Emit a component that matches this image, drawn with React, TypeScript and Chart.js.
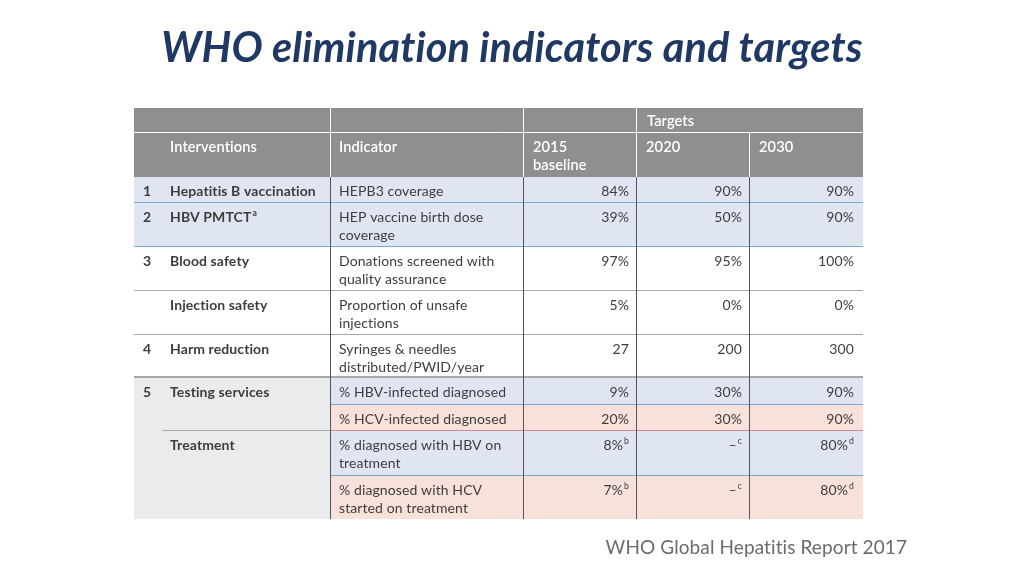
import React, { useEffect, useRef } from "react";
import { Chart, registerables } from "chart.js";

Chart.register(...registerables);

// ---------- content ----------
const TITLE = "WHO elimination indicators and targets";
const SOURCE = "WHO Global Hepatitis Report 2017";
const groupHeader = "Targets";
const columnHeaders = ["", "Interventions", "Indicator", "2015\nbaseline", "2020", "2030"];

const rowNumbers = ["1", "2", "3", "", "4", "5", "", "", ""];
const interventions = [
  "Hepatitis B vaccination",
  "HBV PMTCT",
  "Blood safety",
  "Injection safety",
  "Harm reduction",
  "Testing services",
  "",
  "Treatment",
  "",
];
const interventionNotes = ["", "a", "", "", "", "", "", "", ""];
const indicators = [
  "HEPB3 coverage",
  "HEP vaccine birth dose\ncoverage",
  "Donations screened with\nquality assurance",
  "Proportion of unsafe\ninjections",
  "Syringes & needles\ndistributed/PWID/year",
  "% HBV-infected diagnosed",
  "% HCV-infected diagnosed",
  "% diagnosed with HBV on\ntreatment",
  "% diagnosed with HCV\nstarted on treatment",
];
const baseline2015 = ["84%", "39%", "97%", "5%", "27", "9%", "20%", "8%", "7%"];
const baselineNotes = ["", "", "", "", "", "", "", "b", "b"];
const target2020 = ["90%", "50%", "95%", "0%", "200", "30%", "30%", "\u2013", "\u2013"];
const target2020Notes = ["", "", "", "", "", "", "", "c", "c"];
const target2030 = ["90%", "90%", "100%", "0%", "300", "90%", "90%", "80%", "80%"];
const target2030Notes = ["", "", "", "", "", "", "", "d", "d"];

// ---------- layout / style ----------
const colWidths = [28, 169, 193, 113, 113, 113];
const headerHeights = [25, 44];
const rowHeights = [26, 44, 44, 44, 43, 27, 26, 45, 43];
const rowFill = ["blue", "blue", "white", "white", "white", "blue", "pink", "blue", "pink"];
const leftFill = ["blue", "blue", "white", "white", "white", "gray", "gray", "gray", "gray"];
const rowBottom = ["blue", "blue", "gray", "gray", "thick", "blue", "red", "blue", ""];
const leftBottom = ["blue", "blue", "gray", "gray", "thick", "", "grayInset", "", ""];

const COLORS: Record<string, string> = {
  blue: "#dfe6f1",
  pink: "#f8e1db",
  gray: "#e9ebec",
  white: "#ffffff",
  header: "#8d8f91",
  lineBlue: "#7aa7cf",
  lineRed: "#d88a8f",
  lineGray: "#a8a8a8",
  lineDark: "#4f535a",
  text: "#3d3d3d",
};
const FONT = "Lato, 'Open Sans', sans-serif";
const FS = 14.0;
const HFS = 14.6;
const LINE_H = 18;

const sum = (a: number[], n: number) => a.slice(0, n).reduce((s, v) => s + v, 0);

function drawText(
  ctx: CanvasRenderingContext2D,
  text: string,
  note: string,
  x: number,
  y: number,
  align: "left" | "right",
  weight: string,
  color: string,
  size: number = FS
) {
  ctx.fillStyle = color;
  ctx.textBaseline = "middle";
  ctx.textAlign = "left";
  const lines = text.split("\n");
  lines.forEach((ln, i) => {
    ctx.font = `${weight} ${size}px ${FONT}`;
    const w = ctx.measureText(ln).width;
    let nw = 0;
    if (note && i === lines.length - 1) {
      ctx.font = `${weight} ${size * 0.62}px ${FONT}`;
      nw = ctx.measureText(note).width + 1;
    }
    const x0 = align === "left" ? x : x - w - nw;
    ctx.font = `${weight} ${size}px ${FONT}`;
    ctx.fillText(ln, x0, y + i * LINE_H);
    if (nw) {
      ctx.font = `${weight} ${size * 0.62}px ${FONT}`;
      ctx.fillText(note, x0 + w + 1, y + i * LINE_H - 4);
    }
  });
}

const tablePlugin = {
  id: "tablePlugin",
  afterDraw(chart: any) {
    const ctx: any = chart.ctx;
    const xs = chart.scales.x;
    const ys = chart.scales.y;
    const X = (i: number) => Math.round(xs.getPixelForValue(sum(colWidths, i)));
    const hTop = (i: number) => Math.round(ys.getPixelForValue(sum(headerHeights, i)));
    const bodyStart = sum(headerHeights, headerHeights.length);
    const R = (i: number) => Math.round(ys.getPixelForValue(bodyStart + sum(rowHeights, i)));
    const nCols = colWidths.length;
    const nRows = rowHeights.length;
    ctx.save();
    // non-zero letter spacing disables ligatures (e.g. "ti")
    ctx.letterSpacing = "0.1px";

    // title & source
    ctx.fillStyle = "#1f3864";
    ctx.font = `italic bold 41.5px ${FONT}`;
    ctx.textAlign = "center";
    ctx.textBaseline = "middle";
    ctx.fillText(TITLE, chart.width / 2, 49);
    ctx.fillStyle = "#6b6b6b";
    ctx.font = `19px ${FONT}`;
    ctx.textAlign = "right";
    ctx.fillText(SOURCE, 907, 548);

    // header fill
    ctx.fillStyle = COLORS.header;
    ctx.fillRect(X(0), hTop(0), X(nCols) - X(0), hTop(2) - hTop(0));

    // body fills
    for (let r = 0; r < nRows; r++) {
      ctx.fillStyle = COLORS[leftFill[r]];
      ctx.fillRect(X(0), R(r), X(2) - X(0), R(r + 1) - R(r));
      ctx.fillStyle = COLORS[rowFill[r]];
      ctx.fillRect(X(2), R(r), X(nCols) - X(2), R(r + 1) - R(r));
    }

    const hline = (x1: number, x2: number, y: number, color: string, w = 1) => {
      ctx.strokeStyle = color;
      ctx.lineWidth = w;
      ctx.beginPath();
      const yy = w % 2 ? y + 0.5 : y;
      ctx.moveTo(x1, yy);
      ctx.lineTo(x2, yy);
      ctx.stroke();
    };
    const vline = (x: number, y1: number, y2: number, color: string) => {
      ctx.strokeStyle = color;
      ctx.lineWidth = 1;
      ctx.beginPath();
      ctx.moveTo(x + 0.5, y1);
      ctx.lineTo(x + 0.5, y2);
      ctx.stroke();
    };
    const lineColor = (k: string) =>
      k === "blue" ? COLORS.lineBlue : k === "red" ? COLORS.lineRed : COLORS.lineGray;

    // horizontal lines
    for (let r = 0; r < nRows; r++) {
      const y = R(r + 1) - 1;
      const k = rowBottom[r];
      if (k) hline(X(2), X(nCols), y, lineColor(k), k === "thick" ? 2 : 1);
      const lk = leftBottom[r];
      if (lk === "grayInset") hline(X(1), X(2), y, COLORS.lineGray, 1);
      else if (lk) hline(X(0), X(2), y, lineColor(lk), lk === "thick" ? 2 : 1);
    }
    // header lines (white)
    hline(X(0), X(nCols), hTop(1) - 1, "#ffffff", 1);
    [2, 3, 4].forEach((c) => vline(X(c) - 1, hTop(0), hTop(2), "#ffffff"));
    vline(X(5) - 1, hTop(1), hTop(2), "#ffffff");
    // body vertical lines
    [2, 3, 4, 5].forEach((c) => vline(X(c) - 1, R(0), R(nRows), COLORS.lineDark));

    // header text
    drawText(ctx, groupHeader, "", X(4) + 10, hTop(0) + 13, "left", "600", "#ffffff", HFS);
    columnHeaders.forEach((h, c) => {
      if (!h) return;
      drawText(ctx, h, "", X(c) + (c >= 3 ? 9 : 8), hTop(1) + 14, "left", "600", "#ffffff", HFS);
    });

    // body text
    for (let r = 0; r < nRows; r++) {
      const y = R(r) + 14;
      if (rowNumbers[r]) drawText(ctx, rowNumbers[r], "", X(0) + 9, y, "left", "bold", COLORS.text);
      if (interventions[r])
        drawText(ctx, interventions[r], interventionNotes[r], X(1) + 8, y, "left", "bold", COLORS.text);
      drawText(ctx, indicators[r], "", X(2) + 8, y, "left", "normal", COLORS.text);
      drawText(ctx, baseline2015[r], baselineNotes[r], X(4) - 8, y, "right", "normal", COLORS.text);
      drawText(ctx, target2020[r], target2020Notes[r], X(5) - 8, y, "right", "normal", COLORS.text);
      drawText(ctx, target2030[r], target2030Notes[r], X(6) - 9, y, "right", "normal", COLORS.text);
    }
    ctx.restore();
  },
};

export default function App() {
  const ref = useRef<HTMLCanvasElement | null>(null);
  useEffect(() => {
    if (!ref.current) return;
    const chart = new Chart(ref.current, {
      type: "scatter",
      data: { datasets: [{ data: [] }] },
      options: {
        animation: false,
        responsive: false,
        devicePixelRatio: 1,
        layout: { padding: { left: 134, right: 161, top: 108, bottom: 57 } },
        plugins: { legend: { display: false }, tooltip: { enabled: false }, title: { display: false } },
        scales: {
          x: { type: "linear", min: 0, max: sum(colWidths, colWidths.length), display: false },
          y: {
            type: "linear",
            reverse: true,
            min: 0,
            max: sum(headerHeights, headerHeights.length) + sum(rowHeights, rowHeights.length),
            display: false,
          },
        },
      },
      plugins: [tablePlugin],
    });
    return () => chart.destroy();
  }, []);
  return (
    <div style={{ position: "absolute", left: 0, top: 0, width: 1024, height: 576, background: "#fff" }}>
      <canvas ref={ref} width={1024} height={576} />
    </div>
  );
}
